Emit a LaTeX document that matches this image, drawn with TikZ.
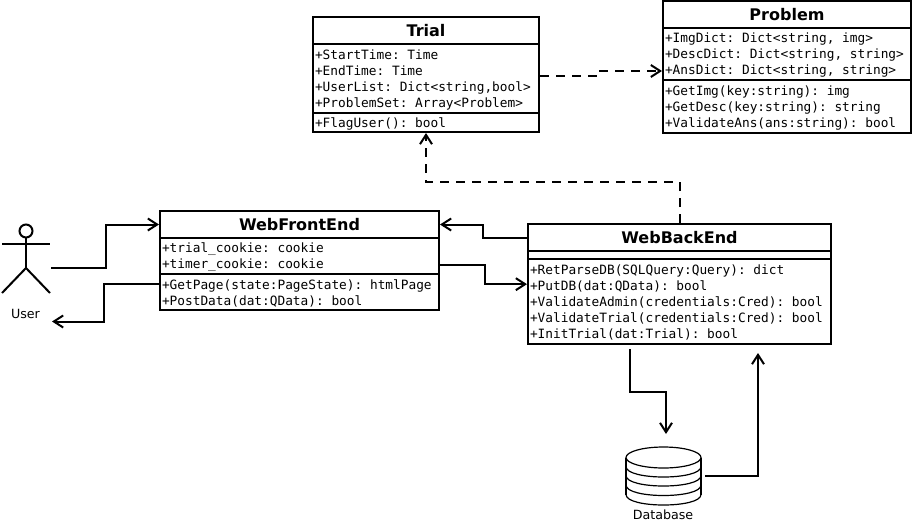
\documentclass[tikz,border=0pt]{standalone}
\usepackage{fontspec}
\setmainfont{DejaVu Sans}
\setmonofont{DejaVu Sans Mono}
\usepackage{tikz}
\usetikzlibrary{arrows.meta, positioning}

\begin{document}
\begin{tikzpicture}[
        x=0.75pt, y=-0.75pt,
        node distance=-1.5pt,
        title/.style={rectangle, draw, line width=1.5pt, font=\bfseries\fontsize{12}{13}\selectfont, align=center, inner sep=0pt, minimum height=20.25pt},
        part/.style={rectangle, draw, line width=1.5pt, font=\ttfamily\fontsize{9.6}{12}\selectfont\frenchspacing, align=flush left, inner xsep=1.5pt, inner ysep=0pt, text width=#1},
        lines/.style={part=#1, execute at begin node=\rule{0pt}{9pt}},
        caption/.style={font=\fontsize{9.5}{11}\selectfont, inner sep=0pt},
        figure/.style={line width=1.5pt},
        disk/.style={line width=0.9pt},
        arrow/.style={-{Straight Barb[length=7pt, width=9pt, line width=1.5pt]}, line width=1.5pt},
        dasharrow/.style={arrow, dash pattern=on 6.5pt off 5.5pt}
        ]
        \useasboundingbox (0,0) rectangle (913,525);

        \node (trialhead) [title, minimum width=169.5pt] at (426,30.5) {Trial};
        \node (trialattr) [lines=166.5pt, minimum height=51.75pt, below=of trialhead] {+StartTime: Time \\ +EndTime: Time \\ +UserList: Dict<string,bool> \\ +ProblemSet: Array<Problem>};
        \node (trialops) [lines=166.5pt, minimum height=14.25pt, below=of trialattr] {+FlagUser(): bool};

        \node (problemhead) [title, minimum width=186pt] at (787,14.5) {Problem};
        \node (problemattr) [lines=183pt, minimum height=39pt, below=of problemhead] {+ImgDict: Dict<string, img> \\ +DescDict: Dict<string, string> \\ +AnsDict: Dict<string, string>};
        \node (problemops) [lines=183pt, minimum height=39.75pt, below=of problemattr] {+GetImg(key:string): img \\ +GetDesc(key:string): string \\ +ValidateAns(ans:string): bool};

        \node (fronthead) [title, minimum width=209.25pt] at (299.5,224.5) {WebFrontEnd};
        \node (frontattr) [lines=206.25pt, minimum height=27pt, below=of fronthead] {+trial\_cookie: cookie \\ +timer\_cookie: cookie};
        \node (frontops) [lines=206.25pt, minimum height=27pt, below=of frontattr] {+GetPage(state:PageState): htmlPage \\ +PostData(dat:QData): bool};

        \node (backhead) [title, minimum width=227.25pt] at (679.5,237.5) {WebBackEnd};
        \node (backattr) [part=224.25pt, minimum height=6pt, below=of backhead] {};
        \node (backops) [lines=224.25pt, minimum height=63.75pt, below=of backattr] {+RetParseDB(SQLQuery:Query): dict \\ +PutDB(dat:QData): bool \\ +ValidateAdmin(credentials:Cred): bool \\ +ValidateTrial(credentials:Cred): bool \\ +InitTrial(dat:Trial): bool};

        % actor
        \node (user) [caption] at (25.5,314) {User};
        \draw [figure] (26,231) circle [radius=6.5];
        \draw [figure] (26,237.5) -- (26,268);
        \draw [figure] (2,243.5) -- (50,243.5);
        \draw [figure] (2,293) -- (26,268) -- (50,293);

        % database
        \node (db) [minimum width=56.25pt, minimum height=44.25pt, inner sep=0pt] at (663.5,476) {};
        \node (dbname) [caption] at (663,515) {Database};
        \draw [disk] (663.5,457.5) ellipse [x radius=37.5, y radius=10.5];
        \draw [disk] (626,457.5) -- (626,494.5) (701,457.5) -- (701,494.5);
        \foreach \y in {466.5,475.5,485,494.5}
            \draw [disk] (626,\y) .. controls +(0,14) and +(0,14) .. (701,\y);

        \coordinate (userout) at (51,267.5);
        \coordinate (userin) at (52,321.5);
        \coordinate (backout) at (630,349);
        \coordinate (backin) at (758,353);
        \coordinate (dbin) at (666,434);

        \draw [arrow] (userout) -- ++(54.5,0) |- (fronthead.west);
        \draw [arrow] ([yshift=6pt]frontops.west) -- ++(-55,0) |- (userin);
        \draw [arrow] (backhead.west) -- ++(-44,0) |- (fronthead.east);
        \draw [arrow] ([yshift=-7pt]frontattr.east) -- ++(45,0) |- ([yshift=13pt]backops.west);
        \draw [arrow] (backout) -- ++(0,43) -| (dbin);
        \draw [arrow, shorten <=3pt] (db.east) -| (backin);
        \draw [dasharrow] ([yshift=2pt]trialattr.east) -- ++(60,0) |- ([yshift=-12.75pt]problemattr.west);
        \draw [dasharrow] (backhead.north) -- ++(0,-41) -| (trialops.south);
    \end{tikzpicture}
\end{document}
